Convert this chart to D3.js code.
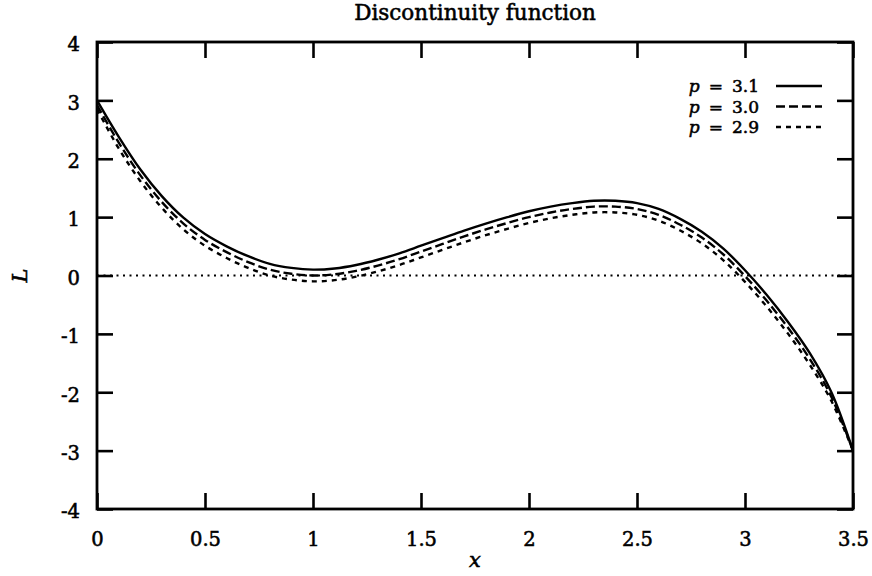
<!DOCTYPE html>
<html><head><meta charset="utf-8">
<script src="https://cdn.jsdelivr.net/npm/d3@7"></script>
<style>body{margin:0;background:#fff}</style>
</head><body>
<script>
const xValues = [0,0.1,0.2,0.3,0.4,0.5,0.6,0.7,0.8,0.9,1.0,1.1,1.2,1.3,1.4,1.5,1.6,1.7,1.8,1.9,2.0,2.1,2.2,2.3,2.4,2.5,2.6,2.7,2.8,2.9,3.0,3.1,3.2,3.3,3.4,3.5];
const p31 = [3.0,2.38,1.82,1.36,0.99,0.71,0.5,0.33,0.2,0.13,0.1,0.12,0.18,0.27,0.38,0.51,0.64,0.77,0.89,1.0,1.1,1.18,1.24,1.28,1.28,1.24,1.14,0.97,0.75,0.46,0.09,-0.33,-0.8,-1.33,-2.0,-3.0];
const p30 = [2.92,2.28,1.72,1.26,0.89,0.61,0.4,0.23,0.1,0.03,0.0,0.02,0.08,0.17,0.28,0.41,0.54,0.67,0.79,0.9,1.0,1.08,1.14,1.18,1.18,1.14,1.04,0.87,0.65,0.36,-0.01,-0.43,-0.9,-1.43,-2.08,-3.0];
const p29 = [2.85,2.18,1.62,1.16,0.79,0.51,0.3,0.13,0.0,-0.07,-0.1,-0.08,-0.02,0.07,0.18,0.31,0.44,0.57,0.69,0.8,0.9,0.98,1.04,1.08,1.08,1.04,0.94,0.77,0.55,0.26,-0.11,-0.53,-1.0,-1.53,-2.15,-3.0];
const seriesLabels = ["3.1","3.0","2.9"];
const xTicks = [0,0.5,1,1.5,2,2.5,3,3.5];
const yTicks = [-4,-3,-2,-1,0,1,2,3,4];
const title = "Discontinuity function";

const W = 872, H = 576;
const m = {left:97, right:872-853, top:42, bottom:576-509};
const svg = d3.select("body").append("svg").attr("width",W).attr("height",H);
const x = d3.scaleLinear().domain([0,3.5]).range([m.left, W-m.right]);
const y = d3.scaleLinear().domain([-4,4]).range([H-m.bottom, m.top]);
const font = "'DejaVu Serif', serif";
const thick = t => t.attr("stroke","#000").attr("stroke-width",0.55).attr("fill","#000");

// zero line
svg.append("line").attr("x1",x(0)).attr("x2",x(3.5)).attr("y1",y(0)).attr("y2",y(0))
  .attr("stroke","#000").attr("stroke-width",1.8).attr("stroke-dasharray","2,4.5");

const dashes = [null, "9,4", "5,5"];
const series = [p31,p30,p29];
const line = d3.line().x((d,i)=>x(xValues[i])).y(d=>y(d)).curve(d3.curveCatmullRom.alpha(0.5));
series.forEach((s,k)=>{
  svg.append("path").datum(s).attr("d",line).attr("fill","none").attr("stroke","#000")
    .attr("stroke-width",2.4).attr("stroke-dasharray",dashes[k]);
});

// axes with inward ticks
const tl = 16;
const gB = svg.append("g").attr("transform",`translate(0,${y(-4)})`)
  .call(d3.axisBottom(x).tickValues(xTicks).tickSizeInner(-tl).tickSizeOuter(0).tickPadding(23).tickFormat(d=>String(d)));
const gT = svg.append("g").attr("transform",`translate(0,${y(4)})`)
  .call(d3.axisTop(x).tickValues(xTicks).tickSizeInner(-tl).tickSizeOuter(0).tickFormat(""));
const gL = svg.append("g").attr("transform",`translate(${x(0)},0)`)
  .call(d3.axisLeft(y).tickValues(yTicks).tickSizeInner(-tl).tickSizeOuter(0).tickPadding(17).tickFormat(d=>String(d)));
const gR = svg.append("g").attr("transform",`translate(${x(3.5)},0)`)
  .call(d3.axisRight(y).tickValues(yTicks).tickSizeInner(-tl).tickSizeOuter(0).tickFormat(""));
[gB,gT,gL,gR].forEach(g=>{
  g.select(".domain").remove();
  g.selectAll(".tick line").attr("stroke","#000").attr("stroke-width",2.6);
  g.selectAll("text").attr("font-family",font).attr("font-size",19.5).call(thick);
});
gL.selectAll("text").attr("dy","0.45em");
svg.append("rect").attr("x",x(0)).attr("y",y(4)).attr("width",x(3.5)-x(0)).attr("height",y(-4)-y(4))
  .attr("fill","none").attr("stroke","#000").attr("stroke-width",2.8);

// title and labels
svg.append("text").attr("x",(x(0)+x(3.5))/2).attr("y",20).attr("text-anchor","middle")
  .attr("font-family",font).attr("font-size",21.5).call(thick).text(title);
svg.append("text").attr("x",(x(0)+x(3.5))/2).attr("y",567).attr("text-anchor","middle")
  .attr("font-family",font).attr("font-style","italic").attr("font-size",21).call(thick).text("x");
svg.append("text").attr("transform",`translate(27,${y(0)}) rotate(-90)`).attr("text-anchor","middle")
  .attr("font-family",font).attr("font-style","italic").attr("font-size",21).call(thick).text("L");

// legend
seriesLabels.forEach((lab,k)=>{
  const by = 92 + k*20.5;
  const t = svg.append("text").attr("x",759).attr("y",by).attr("text-anchor","end")
    .attr("font-family",font).attr("font-size",17).call(thick);
  t.append("tspan").attr("font-style","italic").text("p");
  t.append("tspan").attr("dx",9).text("=");
  t.append("tspan").attr("dx",9).text(lab);
  svg.append("line").attr("x1",776).attr("x2",822).attr("y1",by-6).attr("y2",by-6)
    .attr("stroke","#000").attr("stroke-width",2.4).attr("stroke-dasharray",dashes[k]);
});
</script>
</body></html>
